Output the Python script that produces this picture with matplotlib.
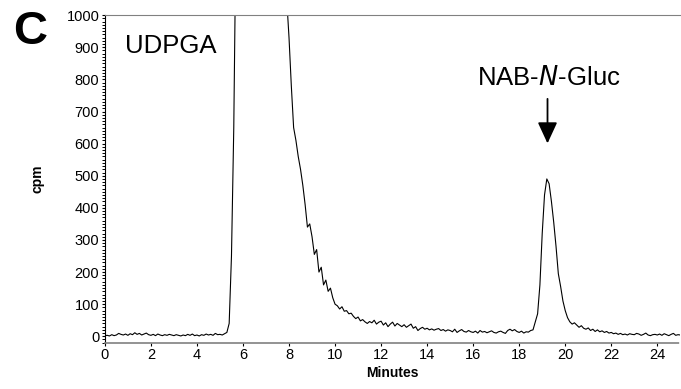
import numpy as np
import matplotlib.pyplot as plt
from matplotlib.ticker import MultipleLocator

plt.rcParams['font.family'] = ['Liberation Sans', 'DejaVu Sans']

# radioactivity trace, one reading every 0.1 min from 0 to 25 min
step_min = 0.1
cpm = [
    2, 3, 1, 5, 2, 4, 9, 6, 4, 7,
    3, 8, 5, 11, 6, 9, 4, 7, 10, 5,
    3, 6, 2, 7, 4, 2, 5, 3, 6, 4,
    2, 5, 3, 1, 4, 2, 6, 3, 7, 2,
    4, 1, 5, 3, 7, 4, 6, 3, 9, 5,
    6, 4, 8, 12, 40, 250, 650, 1300, 2400, 3400,
    3900, 4000, 4000, 4000, 4000, 4000, 4000, 3900, 3800, 3700,
    3500, 3200, 3000, 2600, 2200, 1900, 1600, 1400, 1200, 1050,
    930, 780, 650, 610, 560, 520, 470, 410, 340, 350,
    310, 255, 270, 200, 215, 160, 175, 140, 150, 120,
    100, 95, 85, 92, 78, 80, 70, 72, 62, 55,
    60, 48, 52, 45, 40, 46, 42, 50, 38, 44,
    47, 35, 42, 30, 38, 44, 32, 40, 35, 30,
    36, 28, 33, 38, 25, 30, 18, 24, 28, 22,
    25, 20, 23, 19, 22, 24, 18, 21, 16, 20,
    18, 14, 22, 12, 17, 21, 15, 13, 18, 14,
    12, 16, 10, 18, 13, 15, 11, 14, 17, 12,
    10, 14, 16, 12, 9, 18, 22, 17, 21, 15,
    12, 16, 10, 14, 13, 18, 20, 45, 70, 160,
    320, 440, 490, 475, 420, 355, 280, 195, 155, 110,
    80, 58, 45, 38, 42, 35, 28, 33, 25, 22,
    26, 18, 22, 15, 20, 14, 17, 12, 15, 10,
    12, 8, 10, 6, 9, 5, 7, 4, 8, 6,
    5, 9, 7, 3, 6, 10, 4, 2, 5, 6,
    4, 7, 3, 8, 5, 2, 6, 9, 3, 5,
    4,
]
minutes = np.arange(len(cpm)) * step_min

fig = plt.figure(figsize=(6.81, 3.89), dpi=100)
ax = fig.add_axes([0.154, 0.119, 0.845, 0.842])
ax.plot(minutes, cpm, color="black", linewidth=0.8)

ax.set_xlim(0, 25)
ax.set_ylim(-20, 1000)
ax.xaxis.set_major_locator(MultipleLocator(2))
ax.xaxis.set_minor_locator(MultipleLocator(0.2))
ax.yaxis.set_major_locator(MultipleLocator(100))
ax.yaxis.set_minor_locator(MultipleLocator(10))
ax.tick_params(axis="both", which="major", labelsize=10.5, length=2.5, width=0.8, pad=1.5)
ax.tick_params(axis="y", which="minor", length=2, width=0.7)
ax.tick_params(axis="x", which="minor", length=0)

ax.spines["right"].set_visible(False)
ax.spines["top"].set_color("#808080")
ax.spines["bottom"].set_color("#808080")
ax.spines["bottom"].set_linestyle((0, (2, 1)))
ax.spines["bottom"].set_linewidth(1.2)

ax.set_xlabel("Minutes", fontsize=10, fontweight="bold", labelpad=3)
ax.set_ylabel("cpm", fontsize=10, fontweight="bold", labelpad=16)

ax.text(0.87, 882, "UDPGA", fontsize=18.5, va="baseline", ha="left")
ax.text(19.3, 782, "NAB-$\\it{N}$-Gluc", fontsize=18.5, va="baseline", ha="center")
ax.annotate("", xy=(19.23, 592), xytext=(19.23, 748),
            arrowprops=dict(arrowstyle="-|>,head_length=1.3,head_width=0.6",
                            color="black", lw=1.3))
fig.text(0.019, 0.975, "C", fontsize=34, fontweight="bold", va="top", ha="left")

fig.savefig("out.png", dpi=100)
